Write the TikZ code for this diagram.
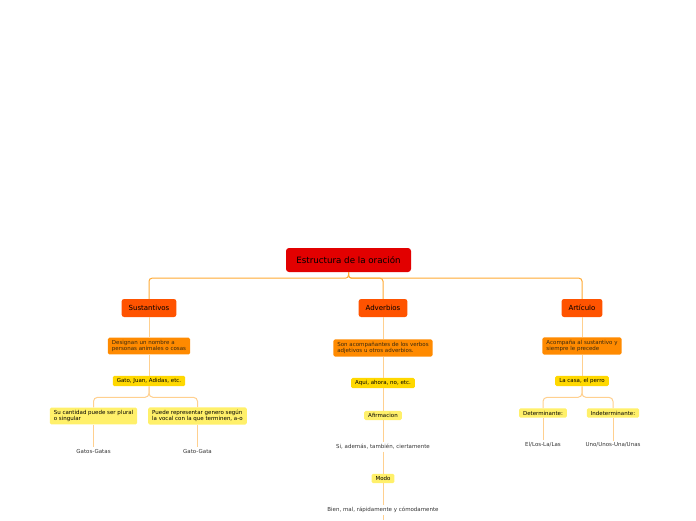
\documentclass[tikz,border=0pt]{standalone}
\usepackage{fontspec}
\setmainfont{DejaVu Sans}
\usetikzlibrary{positioning}
\definecolor{rootred}{HTML}{E20000}
\definecolor{mainorange}{HTML}{FF5300}
\definecolor{midorange}{HTML}{FF8A00}
\definecolor{gold}{HTML}{FFD800}
\definecolor{paleyellow}{HTML}{FFF06A}
\definecolor{linkdark}{HTML}{FFA933}
\definecolor{linklight}{HTML}{FFD08F}
\definecolor{ink}{HTML}{3A2A10}

\begin{document}
\begin{tikzpicture}[x=1pt, y=-1pt,
  root/.style={fill=rootred, rounded corners=3pt, font=\fontsize{8.7}{10}\selectfont,
               minimum width=125pt, minimum height=24pt, inner sep=0pt},
  lvlone/.style={fill=mainorange, rounded corners=2.5pt, font=\fontsize{7}{8}\selectfont,
                 minimum height=18pt, inner xsep=7pt, inner ysep=0pt},
  lvltwo/.style={fill=midorange, rounded corners=1.5pt, font=\fontsize{5.5}{6.6}\selectfont,
                 align=left, text=ink, inner xsep=4pt, inner ysep=2.5pt},
  lvlthree/.style={fill=gold, rounded corners=1.5pt, font=\fontsize{5.5}{6.6}\selectfont,
                   align=left, inner xsep=4pt, inner ysep=2.5pt},
  lvlfour/.style={fill=paleyellow, rounded corners=1.5pt, font=\fontsize{5.5}{6.6}\selectfont,
                  align=left, inner xsep=4pt, inner ysep=2.5pt},
  leaf/.style={font=\fontsize{5.5}{6.6}\selectfont, text=black!80, inner sep=2pt},
  link/.style={linkdark, line width=1pt, rounded corners=3pt},
  sublink/.style={linklight, line width=1pt, rounded corners=4pt}]
  \useasboundingbox (0,0) rectangle (696,520);

  % root and main branches
  \node[root] (root) at (348.5,260) {Estructura de la oración};
  \node[lvlone] (sus) at (149,308) {Sustantivos};
  \node[lvlone] (adv) at (383,308) {Adverbios};
  \node[lvlone] (art) at (582,308) {Artículo};
  \draw[link] (root.south) -- ++(0,6) -| (sus.north);
  \draw[link] (root.south) -- ++(0,6) -| (art.north);
  \draw[link] (root.south) -- ++(0,6) -| (adv.north);

  % Sustantivos
  \node[lvltwo] (designan) at (149,346) {Designan un nombre a\\personas animales o cosas};
  \node[lvlthree] (gato) at (149,381) {Gato, Juan, Adidas, etc.};
  \node[lvlfour] (cantidad) at (93.5,416) {Su cantidad puede ser plural\\o singular};
  \node[lvlfour] (genero) at (197.5,416) {Puede representar genero según\\la vocal con la que terminen, a-o};
  \node[leaf] (gatos) at (93.5,451) {Gatos-Gatas};
  \node[leaf] (gatogata) at (197.5,451) {Gato-Gata};
  \draw[sublink] (sus) -- (designan);
  \draw[sublink] (designan) -- (gato);
  \draw[sublink] (gato.south) -- ++(0,11) -| (cantidad.north);
  \draw[sublink] (gato.south) -- ++(0,11) -| (genero.north);
  \draw[sublink] (cantidad) -- (gatos);
  \draw[sublink] (genero) -- (gatogata);

  % Adverbios
  \node[lvltwo] (acomp) at (383,348) {Son acompañantes de los verbos\\adjetivos u otros adverbios.};
  \node[lvlthree] (aqui) at (383,383) {Aqui, ahora, no, etc.};
  \node[lvlfour] (afirm) at (383,415.5) {Afirmacion};
  \node[leaf] (si) at (383,447) {Si, además, también, ciertamente};
  \node[lvlfour] (modo) at (383,478.5) {Modo};
  \node[leaf] (bien) at (383,510) {Bien, mal, rápidamente y cómodamente};
  \coordinate (more) at (383,520);
  \draw[sublink] (adv) -- (acomp);
  \draw[sublink] (acomp) -- (aqui);
  \draw[sublink] (aqui) -- (afirm);
  \draw[sublink] (afirm) -- (si);
  \draw[sublink] (si) -- (modo);
  \draw[sublink] (modo) -- (bien);
  \draw[sublink] (bien) -- (more);

  % Articulo
  \node[lvltwo] (precede) at (582,346) {Acompaña al sustantivo y\\siempre le precede};
  \node[lvlthree] (casa) at (582,381) {La casa, el perro};
  \node[lvlfour] (det) at (543,413) {Determinante:};
  \node[lvlfour] (indet) at (613,413) {Indeterminante:};
  \node[leaf] (ellos) at (543,445) {El/Los-La/Las};
  \node[leaf] (unos) at (613,445) {Uno/Unos-Una/Unas};
  \draw[sublink] (art) -- (precede);
  \draw[sublink] (precede) -- (casa);
  \draw[sublink] (casa.south) -- ++(0,11) -| (det.north);
  \draw[sublink] (casa.south) -- ++(0,11) -| (indet.north);
  \draw[sublink] (det) -- (ellos);
  \draw[sublink] (indet) -- (unos);
\end{tikzpicture}
\end{document}
